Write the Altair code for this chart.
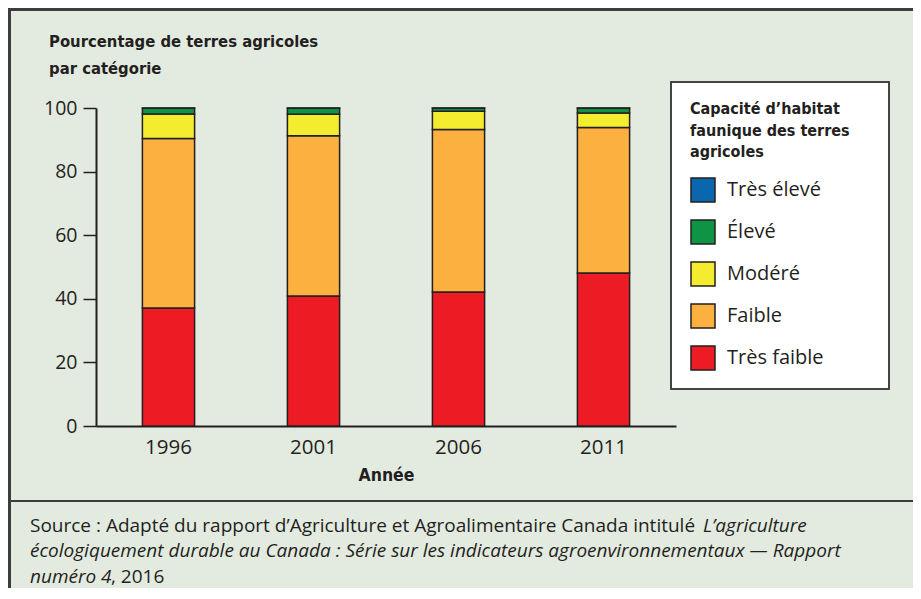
import altair as alt
import pandas as pd

# ---- data ----
years = ["1996", "2001", "2006", "2011"]
categories = ["Très élevé", "Élevé", "Modéré", "Faible", "Très faible"]
colors = ["#0a67ad", "#0f9445", "#f4ec2e", "#fbb040", "#ed1c24"]
tres_faible = [37.1, 40.9, 42.1, 48.1]
faible = [53.3, 50.4, 51.1, 45.8]
modere = [7.7, 6.7, 5.8, 4.5]
eleve = [1.8, 1.9, 0.9, 1.5]
tres_eleve = [0.1, 0.1, 0.1, 0.1]
y_ticks = [0, 20, 40, 60, 80, 100]

series = {
    "Très faible": tres_faible,
    "Faible": faible,
    "Modéré": modere,
    "Élevé": eleve,
    "Très élevé": tres_eleve,
}
rows = []
for rank, (cat, vals) in enumerate(series.items()):
    for yr, v in zip(years, vals):
        rows.append({"Année": yr, "Catégorie": cat, "Valeur": v, "rang": rank})
df = pd.DataFrame(rows)

INK = "#231f20"
BG = "#e3ebe0"
REG = "Open Sans"
COND = "DejaVu Sans Condensed, sans-serif"

bars = alt.Chart(df).mark_bar(stroke=INK, strokeWidth=1.5).encode(
    x=alt.X("Année:N", sort=years,
            scale=alt.Scale(paddingInner=0.64, paddingOuter=0.32),
            axis=alt.Axis(labelAngle=0, ticks=False, domainColor=INK, domainWidth=2,
                          labelFont=REG, labelFontSize=20.5, labelColor=INK, labelPadding=11,
                          title="Année", titleFont=COND, titleFontSize=17.5, titleFontWeight="bold",
                          titleColor=INK, titlePadding=9)),
    y=alt.Y("Valeur:Q", stack="zero",
            scale=alt.Scale(domain=[0, 100], nice=False),
            axis=alt.Axis(values=y_ticks, title=None, grid=False, tickSize=13, tickColor=INK,
                          tickWidth=1.5, domainColor=INK, domainWidth=2, labelFont=REG,
                          labelFontSize=19.5, labelColor=INK, labelPadding=6)),
    color=alt.Color("Catégorie:N",
                    scale=alt.Scale(domain=categories, range=colors),
                    legend=alt.Legend(
                        orient="none", legendX=594, legendY=-7,
                        title=["Capacité d’habitat", "faunique des terres", "agricoles"],
                        titleFont=COND, titleFontSize=16, titleFontWeight="bold",
                        titleLineHeight=21.5, titleColor=INK, titlePadding=17, titleAnchor="start",
                        titleLimit=400, labelLimit=400,
                        labelFont=REG, labelFontSize=20, labelColor=INK, labelOffset=11,
                        symbolType="square", symbolSize=576, symbolStrokeColor=INK,
                        symbolStrokeWidth=1.5, symbolOpacity=1, rowPadding=12, padding=0)),
    order=alt.Order("rang:Q", sort="ascending"),
)

one = alt.Data(values=[{"k": 1}])


def txt(text, x, y, size, font, weight="normal", style="normal"):
    return alt.Chart(one).mark_text(
        text=text, align="left", baseline="alphabetic", font=font, fontSize=size,
        fontWeight=weight, fontStyle=style, color=INK,
    ).encode(x=alt.value(x), y=alt.value(y))


def hrule(y, x1, x2, w):
    return alt.Chart(one).mark_rule(color="#3d3d3d", strokeWidth=w).encode(
        x=alt.value(x1), x2=alt.value(x2), y=alt.value(y))


legend_box = alt.Chart(one).mark_rect(fill="white", stroke="#444444", strokeWidth=2).encode(
    x=alt.value(575), x2=alt.value(793), y=alt.value(-26), y2=alt.value(281))

top_border = hrule(-98.5, -88, 817, 3)
sep = hrule(393, -88, 817, 2)
left_border = alt.Chart(one).mark_rule(color="#3d3d3d", strokeWidth=3).encode(
    x=alt.value(-86.5), y=alt.value(-100), y2=alt.value(480))

t1 = txt("Pourcentage de terres agricoles", -47, -61, 16.5, COND, "bold")
t2 = txt("par catégorie", -47, -34, 16.5, COND, "bold")

s1a = txt("Source : Adapté du rapport d’Agriculture et Agroalimentaire Canada intitulé", -66, 424, 19, REG)
s1b = txt("L’agriculture", 607, 424, 19, REG, style="italic")
s2 = txt("écologiquement durable au Canada : Série sur les indicateurs agroenvironnementaux — Rapport",
         -66, 449, 19, REG, style="italic")
s3a = txt("numéro 4", -66, 475, 19, REG, style="italic")
s3b = txt(", 2016", 15, 475, 19, REG)

chart = alt.layer(
    legend_box, bars, top_border, sep, left_border, t1, t2, s1a, s1b, s2, s3a, s3b
).properties(
    width=580, height=318,
    background=BG,
    padding={"left": 88, "top": 100, "right": 237, "bottom": 162},
    autosize=alt.AutoSizeParams(type="none"),
).configure_view(stroke="transparent")

chart.save("out.html", embed_options={"renderer": "svg", "actions": False})
